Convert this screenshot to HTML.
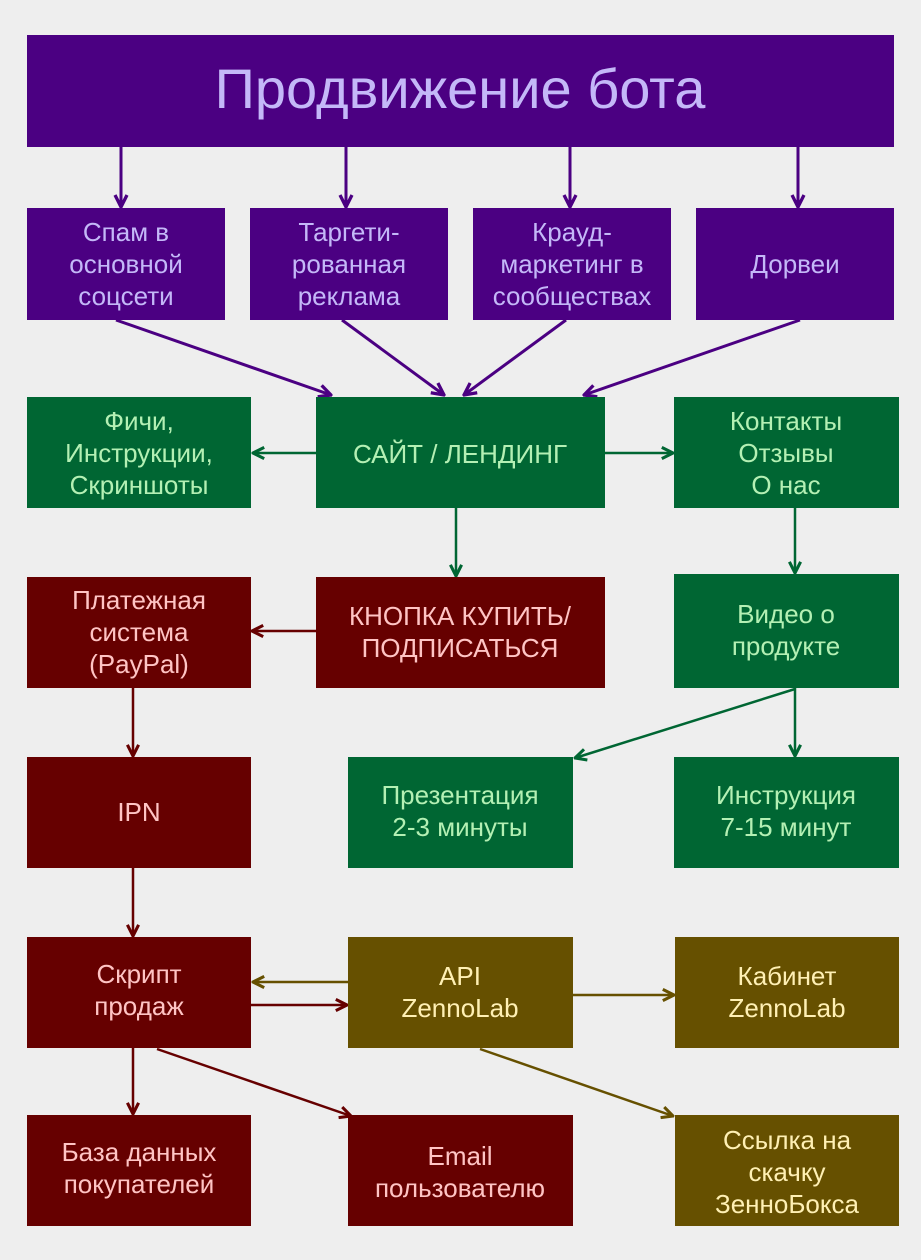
<!DOCTYPE html>
<html><head><meta charset="utf-8"><style>
html,body{margin:0;padding:0;background:#eeeeee;}
svg{display:block;}
text{font-family:"Liberation Sans","DejaVu Sans",sans-serif;text-anchor:middle;}
</style></head><body>
<svg width="921" height="1260" viewBox="0 0 921 1260" xmlns="http://www.w3.org/2000/svg">
<defs>
<marker id="mp" viewBox="0 0 10 10" refX="9" refY="5" markerWidth="15" markerHeight="15" orient="auto" markerUnits="userSpaceOnUse"><path d="M1 1 L9 5 L1 9" fill="none" stroke="#4b0082" stroke-width="2.2"/></marker>
<marker id="mg" viewBox="0 0 10 10" refX="9" refY="5" markerWidth="14" markerHeight="14" orient="auto" markerUnits="userSpaceOnUse"><path d="M1 1 L9 5 L1 9" fill="none" stroke="#006633" stroke-width="2.2"/></marker>
<marker id="mr" viewBox="0 0 10 10" refX="9" refY="5" markerWidth="14" markerHeight="14" orient="auto" markerUnits="userSpaceOnUse"><path d="M1 1 L9 5 L1 9" fill="none" stroke="#660000" stroke-width="2.2"/></marker>
<marker id="mo" viewBox="0 0 10 10" refX="9" refY="5" markerWidth="14" markerHeight="14" orient="auto" markerUnits="userSpaceOnUse"><path d="M1 1 L9 5 L1 9" fill="none" stroke="#665000" stroke-width="2.2"/></marker>
</defs>

<g stroke="#4b0082" stroke-width="3" fill="none">
<line x1="121" y1="147" x2="121" y2="207" marker-end="url(#mp)"/>
<line x1="346" y1="147" x2="346" y2="207" marker-end="url(#mp)"/>
<line x1="570" y1="147" x2="570" y2="207" marker-end="url(#mp)"/>
<line x1="798" y1="147" x2="798" y2="207" marker-end="url(#mp)"/>
<line x1="116" y1="320" x2="331" y2="395" marker-end="url(#mp)"/>
<line x1="342" y1="320" x2="444" y2="395" marker-end="url(#mp)"/>
<line x1="566" y1="320" x2="464" y2="395" marker-end="url(#mp)"/>
<line x1="800" y1="320" x2="584" y2="395" marker-end="url(#mp)"/>
</g>
<g stroke="#006633" stroke-width="2.5" fill="none">
<line x1="316" y1="453" x2="253" y2="453" marker-end="url(#mg)"/>
<line x1="605" y1="453" x2="673" y2="453" marker-end="url(#mg)"/>
<line x1="456" y1="508" x2="456" y2="576" marker-end="url(#mg)"/>
<line x1="795" y1="508" x2="795" y2="573" marker-end="url(#mg)"/>
<line x1="795" y1="688" x2="795" y2="756" marker-end="url(#mg)"/>
<line x1="795" y1="689" x2="575" y2="758" marker-end="url(#mg)"/>
</g>
<g stroke="#660000" stroke-width="2.5" fill="none">
<line x1="316" y1="631" x2="252" y2="631" marker-end="url(#mr)"/>
<line x1="133" y1="688" x2="133" y2="756" marker-end="url(#mr)"/>
<line x1="133" y1="868" x2="133" y2="936" marker-end="url(#mr)"/>
<line x1="251" y1="1005" x2="347" y2="1005" marker-end="url(#mr)"/>
<line x1="133" y1="1048" x2="133" y2="1114" marker-end="url(#mr)"/>
<line x1="157" y1="1049" x2="351" y2="1116" marker-end="url(#mr)"/>
</g>
<g stroke="#665000" stroke-width="2.5" fill="none">
<line x1="348" y1="982" x2="253" y2="982" marker-end="url(#mo)"/>
<line x1="573" y1="995" x2="674" y2="995" marker-end="url(#mo)"/>
<line x1="480" y1="1049" x2="673" y2="1116" marker-end="url(#mo)"/>
</g>

<g fill="#4b0082">
<rect x="27" y="35" width="867" height="112"/>
<rect x="27" y="208" width="198" height="112"/>
<rect x="250" y="208" width="198" height="112"/>
<rect x="473" y="208" width="198" height="112"/>
<rect x="696" y="208" width="198" height="112"/>
</g>
<g fill="#c4b8f8">
<text x="460" y="108" font-size="56">Продвижение бота</text>
<g font-size="26">
<text x="126" y="241">Спам в</text><text x="126" y="273">основной</text><text x="126" y="305">соцсети</text>
<text x="349" y="241">Таргети-</text><text x="349" y="273">рованная</text><text x="349" y="305">реклама</text>
<text x="572" y="241">Крауд-</text><text x="572" y="273">маркетинг в</text><text x="572" y="305">сообществах</text>
<text x="795" y="273">Дорвеи</text>
</g></g>

<g fill="#006633">
<rect x="27" y="397" width="224" height="111"/>
<rect x="316" y="397" width="289" height="111"/>
<rect x="674" y="397" width="225" height="111"/>
<rect x="674" y="574" width="225" height="114"/>
<rect x="348" y="757" width="225" height="111"/>
<rect x="674" y="757" width="225" height="111"/>
</g>
<g fill="#b4f0b4" font-size="26">
<text x="139" y="430">Фичи,</text><text x="139" y="462">Инструкции,</text><text x="139" y="494">Скриншоты</text>
<text x="460" y="463">САЙТ / ЛЕНДИНГ</text>
<text x="786" y="430">Контакты</text><text x="786" y="462">Отзывы</text><text x="786" y="494">О нас</text>
<text x="786" y="623">Видео о</text><text x="786" y="655">продукте</text>
<text x="460" y="804">Презентация</text><text x="460" y="836">2-3 минуты</text>
<text x="786" y="804">Инструкция</text><text x="786" y="836">7-15 минут</text>
</g>

<g fill="#660000">
<rect x="27" y="577" width="224" height="111"/>
<rect x="316" y="577" width="289" height="111"/>
<rect x="27" y="757" width="224" height="111"/>
<rect x="27" y="937" width="224" height="111"/>
<rect x="27" y="1115" width="224" height="111"/>
<rect x="348" y="1115" width="225" height="111"/>
</g>
<g fill="#ffc4c4" font-size="26">
<text x="139" y="609">Платежная</text><text x="139" y="641">система</text><text x="139" y="673">(PayPal)</text>
<text x="460" y="625">КНОПКА КУПИТЬ/</text><text x="460" y="657">ПОДПИСАТЬСЯ</text>
<text x="139" y="821">IPN</text>
<text x="139" y="983">Скрипт</text><text x="139" y="1015">продаж</text>
<text x="139" y="1161">База данных</text><text x="139" y="1193">покупателей</text>
<text x="460" y="1165">Email</text><text x="460" y="1197">пользователю</text>
</g>

<g fill="#665000">
<rect x="348" y="937" width="225" height="111"/>
<rect x="675" y="937" width="224" height="111"/>
<rect x="675" y="1115" width="224" height="111"/>
</g>
<g fill="#fff0b4" font-size="26">
<text x="460" y="985">API</text><text x="460" y="1017">ZennoLab</text>
<text x="787" y="985">Кабинет</text><text x="787" y="1017">ZennoLab</text>
<text x="787" y="1149">Ссылка на</text><text x="787" y="1181">скачку</text><text x="787" y="1213">ЗенноБокса</text>
</g>
</svg>
</body></html>
